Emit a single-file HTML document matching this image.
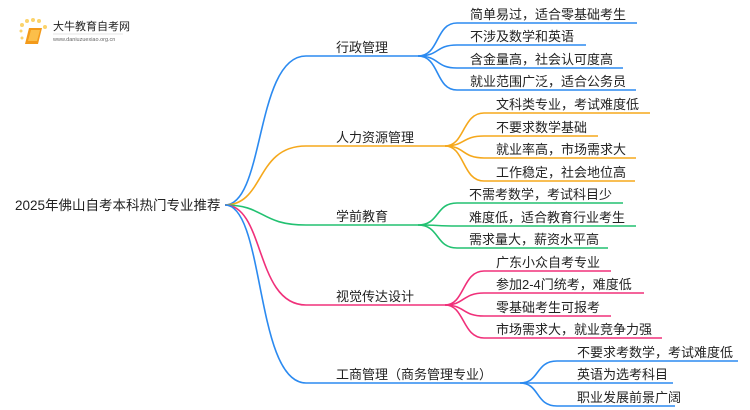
<!DOCTYPE html>
<html><head><meta charset="utf-8"><style>
html,body{margin:0;padding:0;background:#fff;width:750px;height:410px;overflow:hidden}
svg text{font-family:"Liberation Sans","Noto Sans CJK SC",sans-serif;fill:#222}
</style></head><body>
<svg width="750" height="410" viewBox="0 0 750 410" xmlns="http://www.w3.org/2000/svg">
<g fill="none" stroke-width="1.6">
<!-- root branches -->
<path d="M225 205 C265 205,255 56,306 56 L418 56" stroke="#2b8af0"/>
<path d="M225 205 C265 205,255 146,306 146 L445 146" stroke="#f5a81c"/>
<path d="M225 205 C265 205,260 225,306 225 L418 225" stroke="#22c171"/>
<path d="M225 205 C265 205,255 305,306 305 L445 305" stroke="#f0307a"/>
<path d="M225 205 C265 205,255 383,306 383 L520 383" stroke="#2b8af0"/>
<!-- 行政管理 -->
<g stroke="#2b8af0">
<path d="M418 56 C440 56,435 23,457 23 L637 23"/>
<path d="M418 56 C440 56,435 45,457 45 L586 45"/>
<path d="M418 56 C440 56,435 68,457 68 L623 68"/>
<path d="M418 56 C440 56,435 90,457 90 L636 90"/>
</g>
<g stroke="#f5a81c">
<path d="M445 146 C465 146,462 113,484 113 L650 113"/>
<path d="M445 146 C465 146,462 136,484 136 L598 136"/>
<path d="M445 146 C465 146,462 158,484 158 L636 158"/>
<path d="M445 146 C465 146,462 181,484 181 L635 181"/>
</g>
<g stroke="#22c171">
<path d="M418 225 C440 225,435 203,457 203 L623 203"/>
<path d="M418 225 C440 225,435 226,457 226 L636 226"/>
<path d="M418 225 C440 225,435 248,457 248 L608 248"/>
</g>
<g stroke="#f0307a">
<path d="M445 305 C465 305,462 271,484 271 L611 271"/>
<path d="M445 305 C465 305,462 293,484 293 L644 293"/>
<path d="M445 305 C465 305,462 316,484 316 L611 316"/>
<path d="M445 305 C465 305,462 338,484 338 L662 338"/>
</g>
<g stroke="#2b8af0">
<path d="M520 383 C540 383,535 361,557 361 L738 361"/>
<path d="M520 383 C540 383,535 383,557 383 L673 383"/>
<path d="M520 383 C540 383,535 406,557 406 L675 406"/>
</g>
</g>
<!-- logo -->
<g>
<circle cx="22" cy="25" r="2" fill="#fbd36b"/><circle cx="27" cy="21" r="2" fill="#fbd36b"/><circle cx="33" cy="20" r="2" fill="#fbd36b"/><circle cx="39" cy="21" r="2" fill="#fbd36b"/><circle cx="45" cy="27" r="2" fill="#fbd36b"/><circle cx="21" cy="31" r="1.5" fill="#fbd36b"/><circle cx="22" cy="38" r="1.5" fill="#fbd36b"/>
<path d="M29 28 L42 28 L38 44 L25 44 Z" fill="#f39a1a"/>
<path d="M31 30 L40 30 L37 41 L28 41 Z" fill="#fbbf4a"/>
</g>
<text x="53" y="30" font-size="11">大牛教育自考网</text>
<line x1="53" y1="34" x2="123" y2="34" stroke="#ccc" stroke-width="0.6"/>
<text x="53" y="41" font-size="5.5" style="fill:#666">www.daniuzuexiao.org.cn</text>
<!-- texts -->
<g font-size="13.5">
<text x="15" y="210">2025年佛山自考本科热门专业推荐</text>
</g>
<g font-size="13">
<text x="336" y="52">行政管理</text>
<text x="336" y="142">人力资源管理</text>
<text x="336" y="221">学前教育</text>
<text x="336" y="301">视觉传达设计</text>
<text x="336" y="379">工商管理（商务管理专业）</text>
<text x="470" y="19">简单易过，适合零基础考生</text>
<text x="470" y="41">不涉及数学和英语</text>
<text x="470" y="64">含金量高，社会认可度高</text>
<text x="470" y="86">就业范围广泛，适合公务员</text>
<text x="496" y="109">文科类专业，考试难度低</text>
<text x="496" y="132">不要求数学基础</text>
<text x="496" y="154">就业率高，市场需求大</text>
<text x="496" y="177">工作稳定，社会地位高</text>
<text x="469" y="199">不需考数学，考试科目少</text>
<text x="469" y="222">难度低，适合教育行业考生</text>
<text x="469" y="244">需求量大，薪资水平高</text>
<text x="496" y="267">广东小众自考专业</text>
<text x="496" y="289">参加2-4门统考，难度低</text>
<text x="496" y="312">零基础考生可报考</text>
<text x="496" y="334">市场需求大，就业竞争力强</text>
<text x="577" y="357">不要求考数学，考试难度低</text>
<text x="577" y="379">英语为选考科目</text>
<text x="577" y="402">职业发展前景广阔</text>
</g>
</svg>
</body></html>
